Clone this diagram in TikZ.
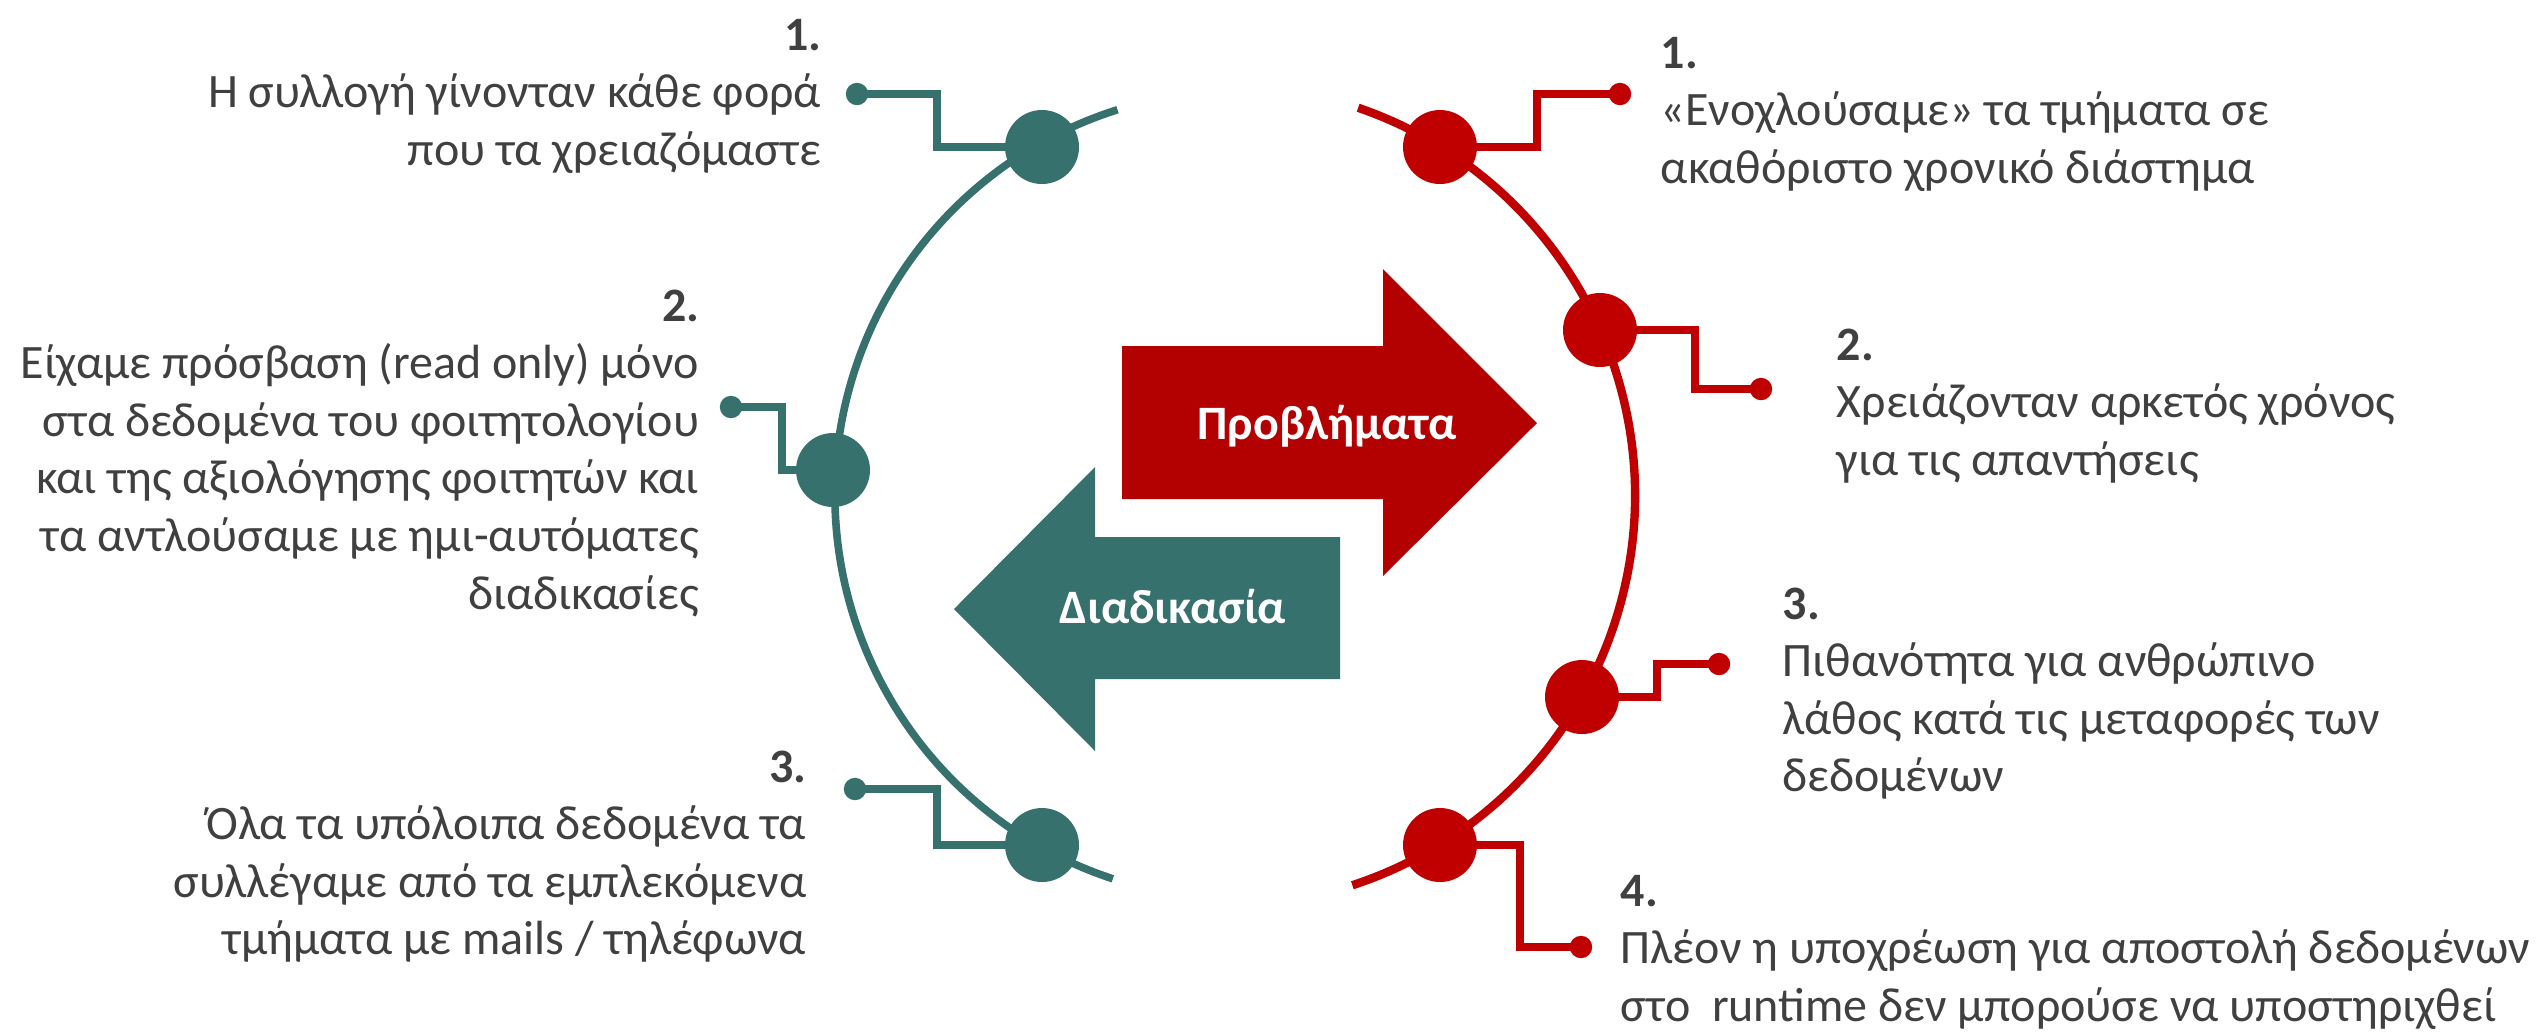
\documentclass[tikz,border=0pt]{standalone}
\usepackage{fontspec}
\setmainfont{Carlito}
\definecolor{tealc}{RGB}{54,113,110}
\definecolor{redc}{RGB}{192,0,0}
\definecolor{reda}{RGB}{179,0,0}
\definecolor{txtc}{RGB}{64,64,64}
\begin{document}
\begin{tikzpicture}[x=0.25pt,y=-0.25pt,
  tealline/.style={draw=tealc,line width=1.9pt},
  redline/.style={draw=redc,line width=2.1pt},
  bigdot/.style={circle,inner sep=0pt,minimum size=18.5pt},
  smalldot/.style={circle,inner sep=0pt,minimum size=5.6pt},
  item/.style={text=txtc,font=\fontsize{12}{14.4}\selectfont,inner sep=0pt},
  arrowlabel/.style={text=white,font=\bfseries\fontsize{12}{14}\selectfont,inner sep=0pt,anchor=base}
]
\useasboundingbox (0,0) rectangle (2540,1033);

% central arrows
\fill[reda] (1122,346) -- (1383,346) -- (1383,269) -- (1537,423) -- (1383,576) -- (1383,499) -- (1122,499) -- cycle;
\fill[tealc] (1340,537) -- (1095,537) -- (1095,467) -- (954,609) -- (1095,751) -- (1095,679) -- (1340,679) -- cycle;
\node[arrowlabel] (lprob) at (1327,439) {Προβλήματα};
\node[arrowlabel] (lproc) at (1173,623) {Διαδικασία};

% arcs
\draw[tealline] ([shift={(108.2:404)}]1239,495) arc[start angle=108.2, end angle=252.5, radius=404];
\draw[redline] ([shift={(-71.05:410)}]1225,495.5) arc[start angle=-71.05, end angle=71.9, radius=410];

% teal circles and dots
\node[bigdot,fill=tealc] (tc1) at (1042,147) {};
\node[bigdot,fill=tealc] (tc2) at (833,470) {};
\node[bigdot,fill=tealc] (tc3) at (1042,845) {};
\node[smalldot,fill=tealc] (td1) at (857,94) {};
\node[smalldot,fill=tealc] (td2) at (731,407) {};
\node[smalldot,fill=tealc] (td3) at (855,789) {};
\coordinate (tb1) at (937,120);
\coordinate (tb2) at (782,440);
\coordinate (tb3) at (937,815);
\draw[tealline] (td1.center) -| (tb1) |- (tc1.center);
\draw[tealline] (td2.center) -| (tb2) |- (tc2.center);
\draw[tealline] (td3.center) -| (tb3) |- (tc3.center);

% red circles and dots
\node[bigdot,fill=redc] (rc1) at (1440,147) {};
\node[bigdot,fill=redc] (rc2) at (1600,330) {};
\node[bigdot,fill=redc] (rc3) at (1582,697) {};
\node[bigdot,fill=redc] (rc4) at (1440,845) {};
\node[smalldot,fill=redc] (rd1) at (1620,94) {};
\node[smalldot,fill=redc] (rd2) at (1761,389) {};
\node[smalldot,fill=redc] (rd3) at (1719,664) {};
\node[smalldot,fill=redc] (rd4) at (1581,947) {};
\coordinate (rb1) at (1537,120);
\coordinate (rb2) at (1695,360);
\coordinate (rb3) at (1657,680);
\coordinate (rb4) at (1520,900);
\draw[redline] (rc1.center) -| (rb1) |- (rd1.center);
\draw[redline] (rc2.center) -| (rb2) |- (rd2.center);
\draw[redline] (rc3.center) -| (rb3) |- (rd3.center);
\draw[redline] (rc4.center) -| (rb4) |- (rd4.center);

% left texts
\node[item,anchor=base east] (lt1) at (822,50) {\begin{tabular}[t]{@{}r@{}}\textbf{1.}\\Η συλλογή γίνονταν κάθε φορά\\που τα χρειαζόμαστε\end{tabular}};
\node[item,anchor=base east] (lt2) at (700,321) {\begin{tabular}[t]{@{}r@{}}\textbf{2.}\\Είχαμε πρόσβαση (read only) μόνο\\στα δεδομένα του φοιτητολογίου\\και της αξιολόγησης φοιτητών και\\τα αντλούσαμε με ημι-αυτόματες\\διαδικασίες\end{tabular}};
\node[item,anchor=base east] (lt3) at (807,782) {\begin{tabular}[t]{@{}r@{}}\textbf{3.}\\Όλα τα υπόλοιπα δεδομένα τα\\συλλέγαμε από τα εμπλεκόμενα\\τμήματα με mails / τηλέφωνα\end{tabular}};

% right texts
\node[item,anchor=base west] (rt1) at (1660,68) {\begin{tabular}[t]{@{}l@{}}\textbf{1.}\\«Ενοχλούσαμε» τα τμήματα σε\\ακαθόριστο χρονικό διάστημα\end{tabular}};
\node[item,anchor=base west] (rt2) at (1836,360) {\begin{tabular}[t]{@{}l@{}}\textbf{2.}\\Χρειάζονταν αρκετός χρόνος\\για τις απαντήσεις\end{tabular}};
\node[item,anchor=base west] (rt3) at (1782,619) {\begin{tabular}[t]{@{}l@{}}\textbf{3.}\\Πιθανότητα για ανθρώπινο\\λάθος κατά τις μεταφορές των\\δεδομένων\end{tabular}};
\node[item,anchor=base west] (rt4) at (1620,906) {\begin{tabular}[t]{@{}l@{}}\textbf{4.}\\Πλέον η υποχρέωση για αποστολή δεδομένων\\στο\ \ runtime δεν μπορούσε να υποστηριχθεί\end{tabular}};
\end{tikzpicture}
\end{document}
